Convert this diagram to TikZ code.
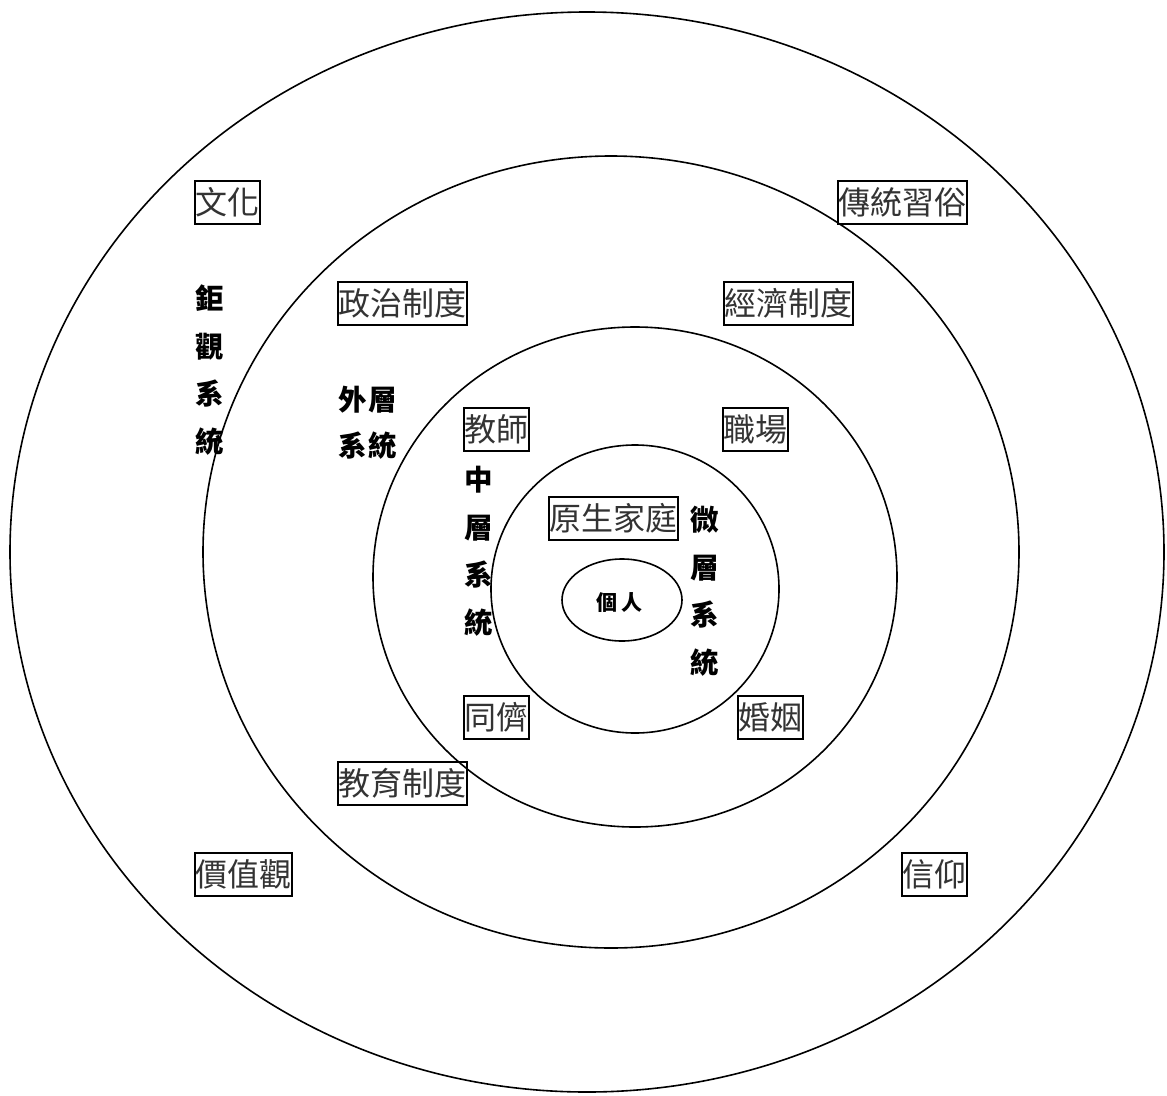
\documentclass[tikz,border=0pt]{standalone}
\usepackage{fontspec}
\newfontfamily\cjk{Noto Sans CJK TC}
\begin{document}
\begin{tikzpicture}[x=1pt,y=-1pt,
  ring/.style={line width=1.6pt},
  lbox/.style={draw, line width=2pt, inner xsep=0.5pt, inner ysep=0pt,
    minimum height=43pt, text=black!80,
    font=\cjk\fontsize{32}{32}\selectfont},
  sysl/.style={font=\cjk\bfseries\fontsize{28.5}{47.5}\selectfont, align=center, inner sep=0pt},
  selfl/.style={font=\cjk\bfseries\fontsize{21}{21}\selectfont, inner sep=0pt}]
\useasboundingbox (0,0) rectangle (1167,1095);
% rings
\draw[ring] (587,552) ellipse [x radius=577pt, y radius=540pt];
\draw[ring] (611,552) ellipse [x radius=408pt, y radius=396pt];
\draw[ring] (635,577) ellipse [x radius=262pt, y radius=250pt];
\draw[ring] (635,589) ellipse [x radius=144pt, y radius=144pt];
\draw[ring] (622,600) ellipse [x radius=60pt, y radius=41pt];
% boxed labels
\node[lbox] (wenhua) at (227,202.5) {文化};
\node[lbox] (chuantong) at (902,202.5) {傳統習俗};
\node[lbox] (zhengzhi) at (402,303.5) {政治制度};
\node[lbox] (jingji) at (788,303.5) {經濟制度};
\node[lbox] (jiaoshi) at (496,429.5) {教師};
\node[lbox] (zhichang) at (755,429.5) {職場};
\node[lbox] (jiating) at (613,518.5) {原生家庭};
\node[lbox] (tongchou) at (496,717.5) {同儕};
\node[lbox] (hunyin) at (770.5,717.5) {婚姻};
\node[lbox] (jiaoyu) at (402,783.5) {教育制度};
\node[lbox] (jiazhi) at (243.5,874.5) {價值觀};
\node[lbox] (xinyang) at (934,874.5) {信仰};
% system labels
\node[sysl] (macro) at (210,370) {鉅\\觀\\系\\統};
\node[sysl, font=\cjk\bfseries\fontsize{28.5}{46}\selectfont] (exo) at (368,423) {外\hspace{2pt}層\\系\hspace{2pt}統};
\node[sysl] (meso) at (479,551) {中\\層\\系\\統};
\node[sysl] (micro) at (705,591) {微\\層\\系\\統};
\node[selfl] (self) at (619.5,603) {個\hspace{4pt}人};
\end{tikzpicture}
\end{document}
